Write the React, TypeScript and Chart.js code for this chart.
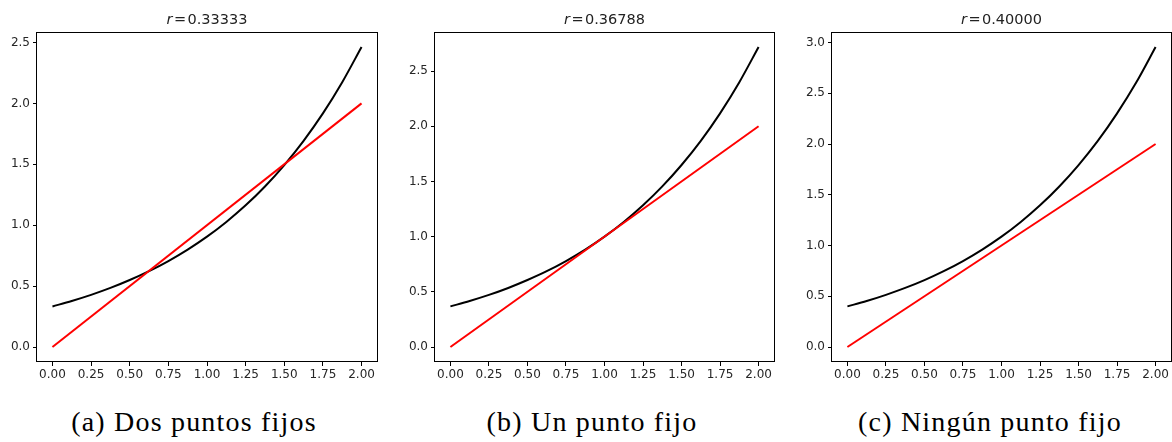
import React, { useEffect, useRef } from "react";
import { Chart, registerables } from "chart.js";

Chart.register(...registerables);

// x samples of the curve r·e^x
const xValues = [0, 0.125, 0.25, 0.375, 0.5, 0.625, 0.75, 0.875, 1.0, 1.125, 1.25, 1.375, 1.5, 1.625, 1.75, 1.875, 2.0];
const curveA = [0.333, 0.378, 0.428, 0.485, 0.55, 0.623, 0.706, 0.8, 0.906, 1.027, 1.163, 1.318, 1.494, 1.693, 1.918, 2.174, 2.463];
const curveB = [0.368, 0.417, 0.472, 0.535, 0.607, 0.687, 0.779, 0.882, 1.0, 1.133, 1.284, 1.455, 1.649, 1.868, 2.117, 2.399, 2.718];
const curveC = [0.4, 0.453, 0.514, 0.582, 0.659, 0.747, 0.847, 0.96, 1.087, 1.232, 1.396, 1.582, 1.793, 2.031, 2.302, 2.608, 2.956];
// identity line y = x
const lineX = [0, 2];
const lineY = [0, 2];

const xTicks = [0, 0.25, 0.5, 0.75, 1.0, 1.25, 1.5, 1.75, 2.0];
const yTicksA = [0, 0.5, 1.0, 1.5, 2.0, 2.5];
const yTicksB = [0, 0.5, 1.0, 1.5, 2.0, 2.5];
const yTicksC = [0, 0.5, 1.0, 1.5, 2.0, 2.5, 3.0];

const rLabels = ["0.33333", "0.36788", "0.40000"];
const captions = ["(a) Dos puntos fijos", "(b) Un punto fijo", "(c) Ningún punto fijo"];

const curves = [curveA, curveB, curveC];
const yTickSets = [yTicksA, yTicksB, yTicksC];

// layout of the three panels (page pixels)
const panels = [
  { left: 0, width: 390, axisW: 37, padRight: 13, captionX: 194 },
  { left: 390, width: 390, axisW: 45, padRight: 6, captionX: 592 },
  { left: 780, width: 392, axisW: 52, padRight: 1, captionX: 990 },
];
const CANVAS_H = 382;

const boxPlugin = {
  id: "boxFrame",
  afterDatasetsDraw(chart: any) {
    const { ctx, chartArea } = chart;
    ctx.save();
    ctx.strokeStyle = "#000";
    ctx.lineWidth = 1;
    ctx.strokeRect(
      Math.round(chartArea.left) - 0.5,
      Math.round(chartArea.top) + 0.5,
      Math.round(chartArea.right - chartArea.left) + 1,
      Math.round(chartArea.bottom - chartArea.top) - 1
    );
    ctx.restore();
  },
};

function Panel({ idx }: { idx: number }) {
  const ref = useRef<HTMLCanvasElement | null>(null);
  const p = panels[idx];
  useEffect(() => {
    if (!ref.current) return;
    const curve = curves[idx];
    const yt = yTickSets[idx];
    const lo = Math.min(...curve, ...lineY);
    const hi = Math.max(...curve, ...lineY);
    const span = hi - lo;
    const xlo = Math.min(...xValues);
    const xhi = Math.max(...xValues);
    const xspan = xhi - xlo;
    const chart = new Chart(ref.current, {
      type: "line",
      data: {
        datasets: [
          {
            data: lineX.map((x, i) => ({ x, y: lineY[i] })),
            borderColor: "#ff0000",
            borderWidth: 2,
            pointRadius: 0,
            fill: false,
          },
          {
            data: xValues.map((x, i) => ({ x, y: curve[i] })),
            borderColor: "#000000",
            borderWidth: 2,
            pointRadius: 0,
            fill: false,
            cubicInterpolationMode: "monotone",
          },
        ],
      },
      options: {
        animation: false,
        responsive: false,
        maintainAspectRatio: false,
        devicePixelRatio: 1,
        layout: { padding: { top: 32, right: p.padRight, left: 0, bottom: 0 } },
        plugins: { legend: { display: false }, tooltip: { enabled: false }, title: { display: false } },
        scales: {
          x: {
            type: "linear",
            min: xlo - 0.05 * xspan,
            max: xhi + 0.05 * xspan,
            afterBuildTicks: (s: any) => {
              s.ticks = xTicks.map((v) => ({ value: v }));
            },
            afterFit: (s: any) => {
              s.height = 20;
            },
            ticks: {
              callback: (v: any) => Number(v).toFixed(2),
              color: "#262626",
              font: { family: "DejaVu Sans", size: 12 },
              padding: 2,
              maxRotation: 0,
              autoSkip: false,
            },
            grid: { display: true, drawOnChartArea: false, drawTicks: true, tickLength: 4, color: "#000", lineWidth: 1 },
            border: { display: false },
          },
          y: {
            type: "linear",
            min: lo - 0.05 * span,
            max: hi + 0.05 * span,
            afterBuildTicks: (s: any) => {
              s.ticks = yt.map((v) => ({ value: v }));
            },
            afterFit: (s: any) => {
              s.width = p.axisW;
            },
            ticks: {
              callback: (v: any) => Number(v).toFixed(1),
              color: "#262626",
              font: { family: "DejaVu Sans", size: 12 },
              padding: 3,
              autoSkip: false,
            },
            grid: { display: true, drawOnChartArea: false, drawTicks: true, tickLength: 4, color: "#000", lineWidth: 1 },
            border: { display: false },
          },
        },
      },
      plugins: [boxPlugin],
    } as any);
    return () => chart.destroy();
  }, [idx]);

  const plotCenter = p.left + p.axisW + (p.width - p.axisW - p.padRight) / 2;
  return (
    <>
      <canvas
        ref={ref}
        width={p.width}
        height={CANVAS_H}
        style={{ position: "absolute", left: p.left, top: 0, width: p.width, height: CANVAS_H, display: "block" }}
      />
      <div
        style={{
          position: "absolute",
          top: 12,
          left: plotCenter - 100,
          width: 200,
          textAlign: "center",
          fontFamily: "DejaVu Sans",
          fontSize: 14.5,
          lineHeight: "14.5px",
          color: "#222",
          whiteSpace: "nowrap",
        }}
      >
        <i>r</i>
        {"\u200A=\u200A" + rLabels[idx]}
      </div>
      <div
        style={{
          position: "absolute",
          top: 408,
          left: p.captionX - 200,
          width: 400,
          textAlign: "center",
          fontFamily: "Liberation Serif",
          fontSize: 28,
          lineHeight: "28px",
          letterSpacing: "1.2px",
          color: "#000",
          whiteSpace: "nowrap",
        }}
      >
        {captions[idx]}
      </div>
    </>
  );
}

export default function App() {
  useEffect(() => {
    document.body.style.margin = "0";
  }, []);
  return (
    <div style={{ position: "relative", width: 1172, height: 442, background: "#fff", overflow: "hidden" }}>
      <Panel idx={0} />
      <Panel idx={1} />
      <Panel idx={2} />
    </div>
  );
}
